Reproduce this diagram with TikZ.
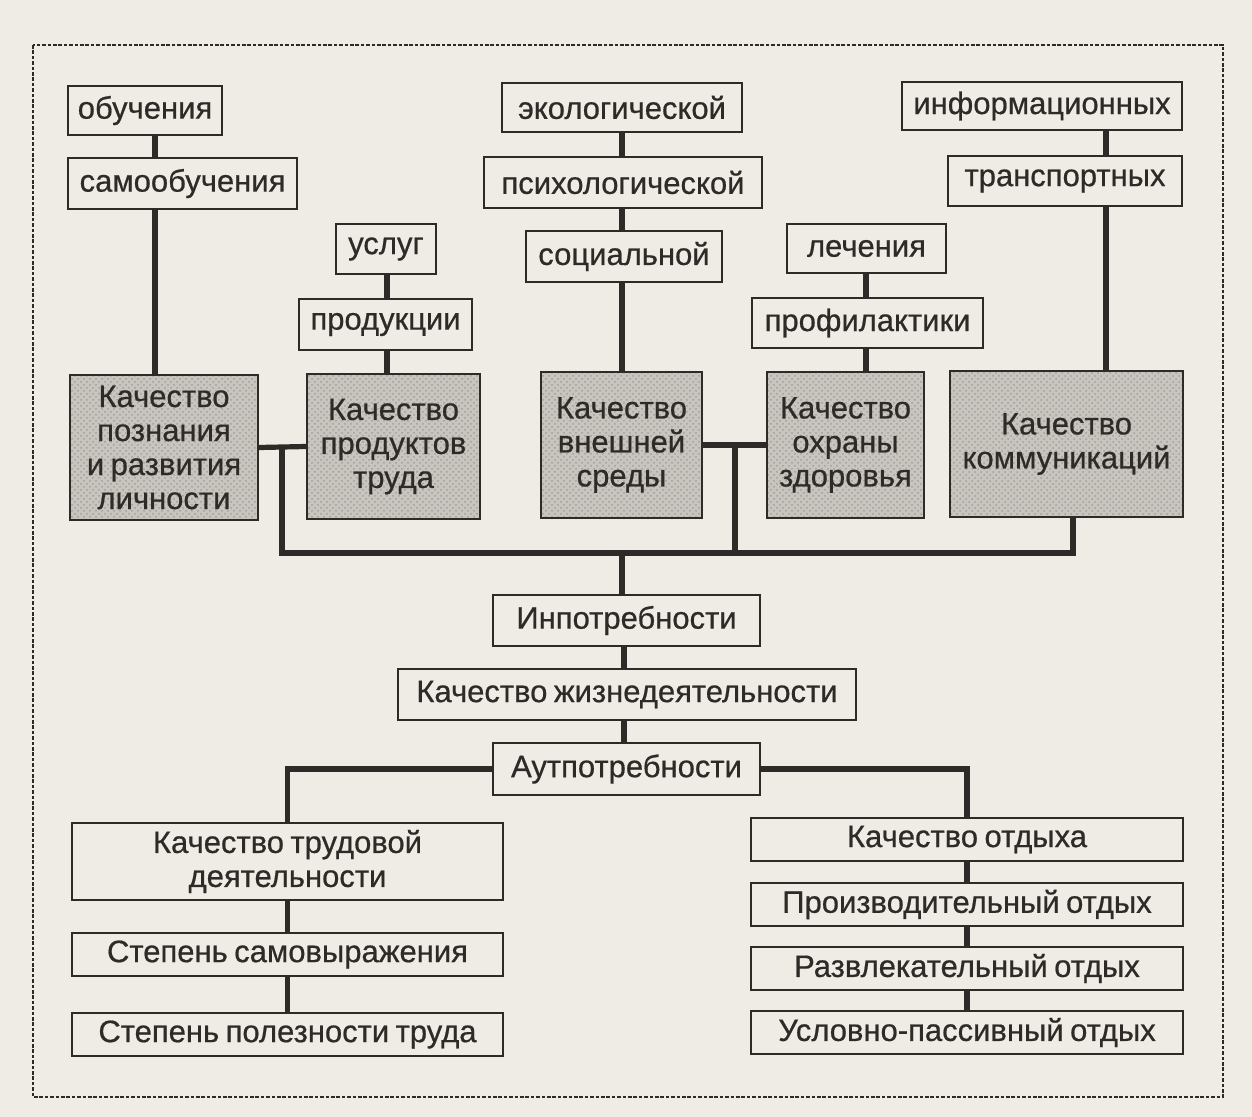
\documentclass[tikz,border=0pt]{standalone}
\usepackage{fontspec}
\setmainfont{Liberation Sans}[FakeBold=0.6,WordSpace=0.75]
\usetikzlibrary{patterns}
\definecolor{paper}{HTML}{EFECE5}
\definecolor{ink}{HTML}{2E2A27}
\definecolor{shade}{HTML}{C8C5BE}
\begin{document}
\begin{tikzpicture}[x=0.5pt,y=-0.5pt,
  box/.style={draw=ink, line width=1.1pt, fill=paper, inner sep=0pt, text=ink,
    font=\fontsize{15.5}{17}\selectfont, align=center},
  wh/.style 2 args={minimum width=#1*0.5pt, minimum height=#2*0.5pt},
  grey/.style={box, preaction={fill=shade}, pattern=crosshatch dots, pattern color=ink!45},
  conn/.style={draw=ink, line width=2.6pt, line join=miter},
  frame/.style={draw=ink, line width=1.1pt, dash pattern=on 1.8pt off 0.9pt}]
\useasboundingbox (0,0) rectangle (1252,1117);
\fill[paper] (0,0) rectangle (1252,1117);
\draw[frame] (33,45) rectangle (1223,1097);

% top chains
\node[box, wh={154}{49}] (ob) at (145,110.5) {обучения};
\node[box, wh={229}{51}] (samo) at (182.5,183.5) {самообучения};
\node[box, wh={240}{49}] (ekol) at (622,107.5) {экологической};
\node[box, wh={278}{51}] (psih) at (623,182.5) {психологической};
\node[box, wh={196}{51}] (soc) at (624,256.5) {социальной};
\node[box, wh={280}{48}] (inf) at (1042,106) {информационных};
\node[box, wh={234}{50}] (trans) at (1065,181) {транспортных};
\node[box, wh={100}{50}] (uslug) at (386,249) {услуг};
\node[box, wh={173}{51}] (prod) at (385.5,324.5) {продукции};
\node[box, wh={159}{49}] (lech) at (866.5,248.5) {лечения};
\node[box, wh={231}{50}] (prof) at (867.5,323) {профилактики};

% grey boxes
\node[grey, wh={188}{145}] (g1) at (164,447.5) {Качество\\познания\\и развития\\личности};
\node[grey, wh={173}{145}] (g2) at (393.5,446.5) {Качество\\продуктов\\труда};
\node[grey, wh={161}{146}] (g3) at (621.5,445) {Качество\\внешней\\среды};
\node[grey, wh={157}{146}] (g4) at (845.5,445) {Качество\\охраны\\здоровья};
\node[grey, wh={233}{146}] (g5) at (1066.5,444) {Качество\\коммуникаций};

% centre column
\node[box, wh={267}{51}] (inp) at (626.5,620.5) {Инпотребности};
\node[box, wh={458}{51}] (kzh) at (627,694.5) {Качество жизнедеятельности};
\node[box, wh={267}{52}] (aut) at (626.5,769) {Аутпотребности};

% bottom left
\node[box, wh={431}{77}] (ktd) at (287.5,861.5) {Качество трудовой\\деятельности};
\node[box, wh={431}{43}] (ssv) at (287.5,954.5) {Степень самовыражения};
\node[box, wh={431}{43}] (spt) at (287.5,1034.5) {Степень полезности труда};

% bottom right
\node[box, wh={432}{43}] (ko) at (967,839.5) {Качество отдыха};
\node[box, wh={432}{43}] (pro) at (967,904.5) {Производительный отдых};
\node[box, wh={432}{43}] (raz) at (967,968.5) {Развлекательный отдых};
\node[box, wh={432}{43}] (usl) at (967,1032.5) {Условно-пассивный отдых};

% connector x positions
\coordinate (xa) at (155,0);
\coordinate (xb) at (622,0);
\coordinate (xc) at (1106,0);
\coordinate (xd) at (387,0);
\coordinate (xe) at (866,0);
\coordinate (xm) at (735,0);
\coordinate (xf) at (624,0);
\coordinate (busL) at (282,553);
\coordinate (busR) at (1073,553);

\draw[conn] (ob.south -| xa) -- (samo.north -| xa);
\draw[conn] (samo.south -| xa) -- (g1.north -| xa);
\draw[conn] (ekol.south -| xb) -- (psih.north -| xb);
\draw[conn] (psih.south -| xb) -- (soc.north -| xb);
\draw[conn] (soc.south -| xb) -- (g3.north -| xb);
\draw[conn] (inf.south -| xc) -- (trans.north -| xc);
\draw[conn] (trans.south -| xc) -- (g5.north -| xc);
\draw[conn] (uslug.south -| xd) -- (prod.north -| xd);
\draw[conn] (prod.south -| xd) -- (g2.north -| xd);
\draw[conn] (lech.south -| xe) -- (prof.north -| xe);
\draw[conn] (prof.south -| xe) -- (g4.north -| xe);

\draw[conn] (g1.east) -- (g2.west);
\draw[conn] (g3.east) -- (g4.west);
\draw[conn] (busL |- g1.east) -- (busL) -- (busR) -- (busR |- g5.south);
\draw[conn] (xm |- g3.east) -- (xm |- busL);
\draw[conn] (xb |- busL) -- (inp.north -| xb);
\draw[conn] (inp.south -| xf) -- (kzh.north -| xf);
\draw[conn] (kzh.south -| xf) -- (aut.north -| xf);

\draw[conn] (aut.west) -| (ktd.north);
\draw[conn] (aut.east) -| (ko.north);
\draw[conn] (ktd.south) -- (ssv.north);
\draw[conn] (ssv.south) -- (spt.north);
\draw[conn] (ko.south) -- (pro.north);
\draw[conn] (pro.south) -- (raz.north);
\draw[conn] (raz.south) -- (usl.north);
\end{tikzpicture}
\end{document}
